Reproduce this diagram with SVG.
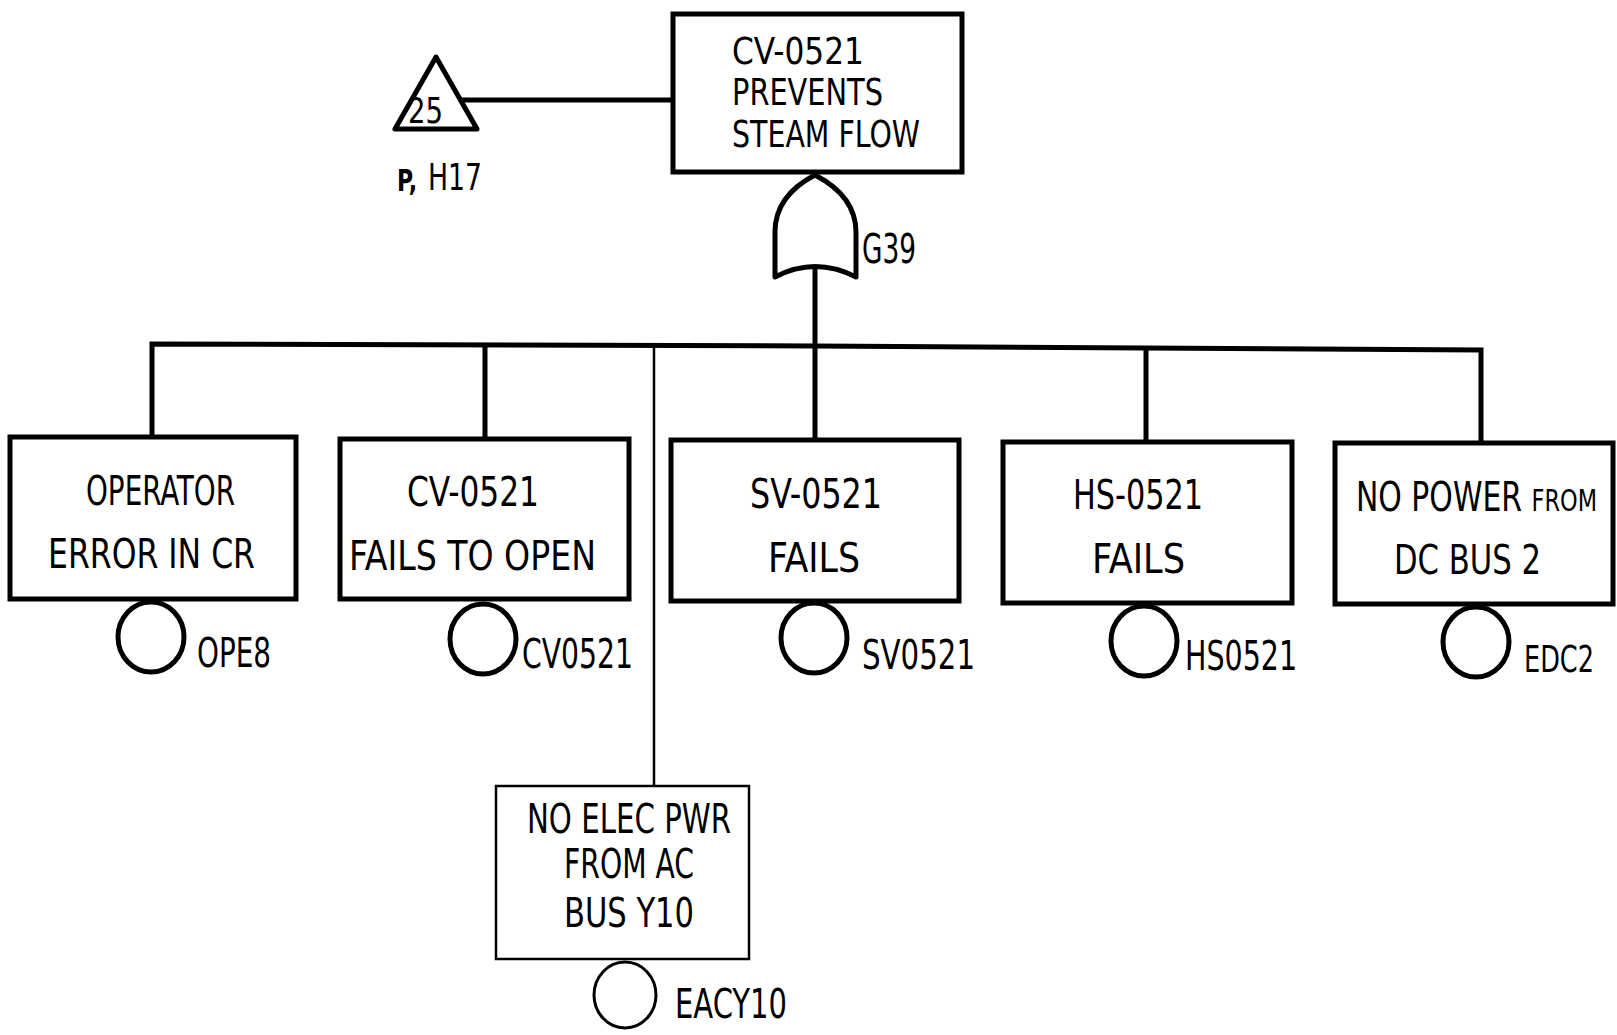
<svg xmlns="http://www.w3.org/2000/svg" width="1617" height="1035" viewBox="0 0 1617 1035">
<style>
.bg{fill:#fff}
.box{fill:#fff;stroke:#000;stroke-width:5}
.tbox{fill:#fff;stroke:#000;stroke-width:2.5}
.circ{fill:none;stroke:#000;stroke-width:5}
.tcirc{fill:none;stroke:#000;stroke-width:3}
.ln{fill:none;stroke:#000;stroke-width:5}
.thin{fill:none;stroke:#000;stroke-width:2.5}
text{font-family:"DejaVu Sans Condensed","Liberation Sans",sans-serif;font-size:40px;fill:#000}
.t36{font-size:37px}
</style>
<rect class="bg" x="0" y="0" width="1617" height="1035"/>
<g id="connectors">
  <line class="ln" x1="459" y1="100" x2="673" y2="100"/>
  <line class="ln" x1="815" y1="265" x2="815" y2="439"/>
  <polyline class="ln" points="152,437 152,344 815,346 1481,350 1481,443"/>
  <line class="ln" x1="485" y1="345" x2="485" y2="438"/>
  <line class="ln" x1="1146" y1="348" x2="1146" y2="441"/>
  <line class="thin" x1="654" y1="345" x2="654" y2="786"/>
</g>
<g id="transfer25">
  <polygon points="436,57 395,129 477,129" fill="none" stroke="#000" stroke-width="5" stroke-linejoin="round"/>
  <text x="408" y="123" textLength="35" lengthAdjust="spacingAndGlyphs" style="font-size:36px">25</text>
  <text x="397" y="191" textLength="20" lengthAdjust="spacingAndGlyphs" style="font-size:31px;font-weight:bold">P,</text>
  <text x="428" y="190" textLength="54" lengthAdjust="spacingAndGlyphs" style="font-size:38px">H17</text>
</g>
<g id="top">
  <rect class="box" x="673" y="14" width="289" height="158"/>
  <text class="t36" x="732" y="64" textLength="132" lengthAdjust="spacingAndGlyphs">CV-0521</text>
  <text class="t36" x="732" y="105" textLength="151" lengthAdjust="spacingAndGlyphs">PREVENTS</text>
  <text class="t36" x="732" y="147" textLength="188" lengthAdjust="spacingAndGlyphs">STEAM FLOW</text>
</g>
<g id="G39">
  <path d="M775,277 L775,232 C775,205 792,187 815,175 C838,187 856,205 856,232 L856,277 Q815,256 775,277 Z" fill="#fff" stroke="#000" stroke-width="5" stroke-linejoin="round"/>
  <text x="862" y="263" textLength="54" lengthAdjust="spacingAndGlyphs">G39</text>
</g>
<g id="OPE8">
  <rect class="box" x="10" y="437" width="286" height="162"/>
  <text x="86" y="505" textLength="149" lengthAdjust="spacingAndGlyphs">OPERATOR</text>
  <text x="48" y="568" textLength="207" lengthAdjust="spacingAndGlyphs">ERROR  IN  CR</text>
  <ellipse class="circ" cx="151" cy="637" rx="33" ry="35"/>
  <text x="197" y="667" textLength="74" lengthAdjust="spacingAndGlyphs">OPE8</text>
</g>
<g id="CV0521">
  <rect class="box" x="340" y="439" width="289" height="160"/>
  <text x="407" y="506" textLength="132" lengthAdjust="spacingAndGlyphs">CV-0521</text>
  <text x="349" y="570" textLength="247" lengthAdjust="spacingAndGlyphs">FAILS TO OPEN</text>
  <ellipse class="circ" cx="483" cy="639" rx="33" ry="35"/>
  <text x="522" y="668" textLength="111" lengthAdjust="spacingAndGlyphs">CV0521</text>
</g>
<g id="SV0521">
  <rect class="box" x="671" y="440" width="288" height="161"/>
  <text x="750" y="508" textLength="132" lengthAdjust="spacingAndGlyphs">SV-0521</text>
  <text x="768" y="572" textLength="92" lengthAdjust="spacingAndGlyphs">FAILS</text>
  <ellipse class="circ" cx="814" cy="638" rx="33" ry="35"/>
  <text x="862" y="669" textLength="113" lengthAdjust="spacingAndGlyphs">SV0521</text>
</g>
<g id="HS0521">
  <rect class="box" x="1003" y="442" width="289" height="161"/>
  <text x="1073" y="509" textLength="130" lengthAdjust="spacingAndGlyphs">HS-0521</text>
  <text x="1092" y="573" textLength="93" lengthAdjust="spacingAndGlyphs">FAILS</text>
  <ellipse class="circ" cx="1144" cy="641" rx="33" ry="35"/>
  <text x="1185" y="670" textLength="112" lengthAdjust="spacingAndGlyphs">HS0521</text>
</g>
<g id="EDC2">
  <rect class="box" x="1335" y="443" width="278" height="161"/>
  <text x="1356" y="511" textLength="241" lengthAdjust="spacingAndGlyphs">NO POWER <tspan style="font-size:30px">FROM</tspan></text>
  <text x="1394" y="574" textLength="147" lengthAdjust="spacingAndGlyphs">DC BUS 2</text>
  <ellipse class="circ" cx="1476" cy="642" rx="33" ry="35"/>
  <text x="1524" y="672" textLength="70" lengthAdjust="spacingAndGlyphs" style="font-size:37px">EDC2</text>
</g>
<g id="EACY10">
  <rect class="tbox" x="496" y="786" width="253" height="173"/>
  <text x="527" y="833" textLength="204" lengthAdjust="spacingAndGlyphs">NO ELEC PWR</text>
  <text x="564" y="878" textLength="130" lengthAdjust="spacingAndGlyphs">FROM AC</text>
  <text x="564" y="927" textLength="130" lengthAdjust="spacingAndGlyphs">BUS Y10</text>
  <ellipse class="tcirc" cx="625" cy="995" rx="31" ry="33"/>
  <text x="675" y="1018" textLength="112" lengthAdjust="spacingAndGlyphs">EACY10</text>
</g>
</svg>
